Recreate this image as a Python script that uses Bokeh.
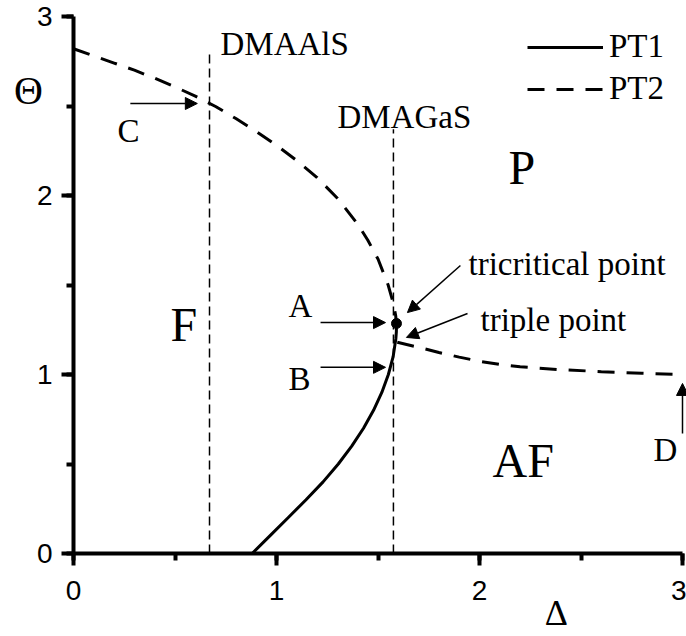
from bokeh.plotting import figure
from bokeh.models import Range1d, SingleIntervalTicker, Arrow, NormalHead
from bokeh.core.properties import value
from bokeh.embed import file_html
from bokeh.resources import INLINE

# ---- data ----
pt1_x = [0.880, 0.9685, 1.057, 1.1455, 1.2295, 1.3044, 1.3706, 1.4286, 1.478, 1.5188,
         1.5511, 1.5746, 1.5879, 1.5905, 1.591]
pt1_y = [0.00, 0.10, 0.20, 0.30, 0.40, 0.50, 0.60, 0.70, 0.80, 0.90,
         1.00, 1.10, 1.20, 1.24, 1.285]

pt2_upper_x = [0.00, 0.10, 0.20, 0.30, 0.40, 0.50, 0.60, 0.70, 0.80, 0.90, 1.00, 1.10,
               1.20, 1.30, 1.40, 1.45, 1.50, 1.55, 1.575, 1.587, 1.591]
pt2_upper_y = [2.82, 2.78, 2.74, 2.70, 2.655, 2.607, 2.555, 2.497, 2.430, 2.358, 2.280,
               2.195, 2.100, 1.985, 1.840, 1.750, 1.645, 1.500, 1.400, 1.330, 1.285]

pt2_lower_x = [1.595, 1.70, 1.80, 1.90, 2.00, 2.10, 2.20, 2.40, 2.60, 2.80, 3.00]
pt2_lower_y = [1.18, 1.152, 1.123, 1.097, 1.074, 1.056, 1.043, 1.027, 1.016, 1.007, 1.00]

material_names = ["DMAAlS", "DMAGaS"]
material_delta = [0.67, 1.576]
material_top = [2.80, 2.37]

tricritical_x = [1.591]
tricritical_y = [1.285]

phase_names = ["P", "F", "AF"]
point_names = ["A", "B", "C", "D", "tricritical point", "triple point"]
axis_titles = ["Θ", "Δ"]

# ---- geometry: x 0..3 maps to px 73..682, y 0..3 maps to px 553..16 ----
W, H = 686, 636
xpx0, xpx3 = 73, 682
ypx0, ypx3 = 553, 16
sx = (xpx3 - xpx0) / 3.0
sy = (ypx0 - ypx3) / 3.0
x_range = Range1d(-xpx0 / sx, 3 + (W - xpx3) / sx)
y_range = Range1d(-(H - ypx0) / sy, 3 + ypx3 / sy)

p = figure(width=W, height=H, x_range=x_range, y_range=y_range,
           output_backend="svg", toolbar_location=None,
           min_border_left=0, min_border_right=0, min_border_top=0, min_border_bottom=0)
p.outline_line_color = None
p.xgrid.visible = False
p.ygrid.visible = False
p.background_fill_color = "white"
p.border_fill_color = "white"

for ax in (p.xaxis[0], p.yaxis[0]):
    ax.fixed_location = 0
    ax.bounds = (0, 3)
    ax.ticker = SingleIntervalTicker(interval=1, num_minor_ticks=2)
    ax.axis_line_width = 4
    ax.axis_line_color = "black"
    ax.major_tick_line_width = 4
    ax.minor_tick_line_width = 4
    ax.major_tick_in = 0
    ax.major_tick_out = 12
    ax.minor_tick_in = 0
    ax.minor_tick_out = 7
    ax.major_label_text_font = "Liberation Sans"
    ax.major_label_text_font_size = "28px"
    ax.major_label_text_color = "black"
p.xaxis.major_label_standoff = 15
p.yaxis.major_label_standoff = 9

# vertical material lines
p.segment(x0=material_delta, y0=[0, 0], x1=material_delta, y1=material_top,
          line_color="black", line_width=1.5, line_dash="9 5")

# phase boundaries
p.line(pt1_x, pt1_y, line_color="black", line_width=3, legend_label="PT1")
p.line(pt2_upper_x, pt2_upper_y, line_color="black", line_width=3,
       line_dash="17 12", legend_label="PT2")
p.line(pt2_lower_x, pt2_lower_y, line_color="black", line_width=3, line_dash="17 12")

p.scatter(tricritical_x, tricritical_y, size=10, color="black")

serif = value("Liberation Serif")

# material labels
p.text(x=[0.724, 1.30], y=[2.844, 2.439], text=material_names, text_font=serif,
       text_font_size="33px", text_baseline="middle", text_align="left", text_color="black")

# phase labels
p.text(x=[2.143, 0.478, 2.064], y=[2.159, 1.282, 0.520], text=phase_names, text_font=serif,
       text_font_size="48px", text_baseline="middle", text_align="left", text_color="black")

# point labels
p.text(x=[1.059, 1.059, 0.217, 2.857, 1.946, 2.005],
       y=[1.380, 0.975, 2.358, 0.578, 1.620, 1.307], text=point_names, text_font=serif,
       text_font_size="33px", text_baseline="middle", text_align="left", text_color="black")

# axis titles
p.text(x=[-0.222], y=[2.587], text=axis_titles[:1], text_font=serif, text_font_size="40px",
       text_baseline="middle", text_align="center", text_color="black")
p.text(x=[2.379], y=[-0.33], text=axis_titles[1:], text_font=serif, text_font_size="36px",
       text_baseline="middle", text_align="center", text_color="black")

# arrows
arrows = [
    (0.28, 2.514, 0.61, 2.514),
    (1.217, 1.29, 1.537, 1.29),
    (1.217, 1.04, 1.537, 1.04),
    (1.906, 1.609, 1.645, 1.346),
    (1.941, 1.341, 1.640, 1.207),
    (3.0, 0.67, 3.0, 0.95),
]
for (xs, ys, xe, ye) in arrows:
    p.add_layout(Arrow(end=NormalHead(size=12, fill_color="black", line_color="black", line_width=1),
                       x_start=xs, y_start=ys, x_end=xe, y_end=ye,
                       line_color="black", line_width=1.5))

# legend
lg = p.legend[0]
lg.location = (527, H - 30 - 77)
lg.border_line_color = None
lg.background_fill_alpha = 0
lg.padding = 0
lg.margin = 0
lg.spacing = 5
lg.glyph_width = 76
lg.glyph_height = 36
lg.label_height = 36
lg.label_standoff = 6
lg.label_text_font = "Liberation Serif"
lg.label_text_font_size = "33px"
lg.label_text_color = "black"

open("out.html", "w").write(file_html(p, INLINE))
